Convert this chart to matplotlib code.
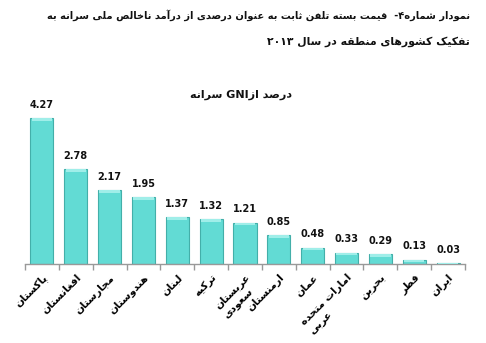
import unicodedata
import numpy as np
import matplotlib
matplotlib.use("Agg")
import matplotlib.pyplot as plt

# ---------------- data ----------------
countries = ["پاکستان", "افغانستان", "مجارستان", "هندوستان", "لبنان", "ترکیه",
             "عربستان\nسعودی", "ارمنستان", "عمان", "امارات متحده\nعربی",
             "بحرین", "قطر", "ایران"]
values = [4.27, 2.78, 2.17, 1.95, 1.37, 1.32, 1.21, 0.85, 0.48, 0.33, 0.29, 0.13, 0.03]
title_line1 = "نمودار شماره۴-  قیمت بسته تلفن ثابت به عنوان درصدی از درآمد ناخالص ملی سرانه به"
title_line2 = "تفکیک کشورهای منطقه در سال ۲۰۱۳"
subtitle = "درصد ازGNI سرانه"

# ---------------- minimal Arabic/Persian shaping + visual ordering ----------------
RIGHT_JOIN = set("اآأإدذرزژوؤة")


def is_arabic_letter(ch):
    return "\u0620" <= ch <= "\u064A" or ch in "پچژکگی"


def joins_next(ch):
    return is_arabic_letter(ch) and ch not in RIGHT_JOIN


def form(ch, f):
    try:
        return unicodedata.lookup(unicodedata.name(ch) + " " + f + " FORM")
    except KeyError:
        if f == "MEDIAL":
            return form(ch, "FINAL")
        if f == "INITIAL":
            return form(ch, "ISOLATED")
        return ch


def shape(text):
    out = []
    i = 0
    n = len(text)
    while i < n:
        ch = text[i]
        prev = text[i - 1] if i > 0 else ""
        nxt = text[i + 1] if i + 1 < n else ""
        if not is_arabic_letter(ch):
            out.append(ch)
            i += 1
            continue
        cp = bool(prev) and joins_next(prev)
        if ch == "ل" and nxt in ("ا", "آ", "أ", "إ"):
            base = {"ا": "ALEF", "آ": "ALEF WITH MADDA ABOVE",
                    "أ": "ALEF WITH HAMZA ABOVE", "إ": "ALEF WITH HAMZA BELOW"}[nxt]
            name = "ARABIC LIGATURE LAM WITH " + base + (" FINAL FORM" if cp else " ISOLATED FORM")
            out.append(unicodedata.lookup(name))
            i += 2
            continue
        cn = joins_next(ch) and bool(nxt) and is_arabic_letter(nxt)
        if cp and cn:
            out.append(form(ch, "MEDIAL"))
        elif cp:
            out.append(form(ch, "FINAL"))
        elif cn:
            out.append(form(ch, "INITIAL"))
        else:
            out.append(form(ch, "ISOLATED"))
        i += 1
    return "".join(out)


def is_ltr(ch):
    return ch.isascii() and (ch.isalnum() or ch == ".") or "\u06F0" <= ch <= "\u06F9"


def visual(text):
    lines = []
    for line in text.split("\n"):
        shaped = shape(line)
        runs = []
        for ch in shaped:
            t = is_ltr(ch)
            if runs and runs[-1][0] == t:
                runs[-1][1].append(ch)
            else:
                runs.append([t, [ch]])
        parts = []
        for t, chars in reversed(runs):
            parts.append("".join(chars) if t else "".join(reversed(chars)))
        lines.append("".join(parts))
    return "\n".join(lines)


# ---------------- plot ----------------
plt.rcParams["font.family"] = ["DejaVu Sans"]
TITLE_FAMILY = ["DejaVu Sans Condensed", "DejaVu Sans"]
W, H = 486, 343
fig = plt.figure(figsize=(W / 100, H / 100), dpi=100)
ax = fig.add_axes([25 / W, 1 - 264 / H, 440 / W, 164 / H])

x = np.arange(len(values))
vals = np.array(values)
ax.bar(x, vals, width=0.68, color="#62DBD4", edgecolor="#43AFA9", linewidth=0.8, zorder=2)
cap = np.minimum(vals, 0.08)
ax.bar(x, cap, bottom=vals - cap, width=0.6, color="#A0EEE9", linewidth=0, zorder=3)

for xi, v in zip(x, values):
    ax.annotate(f"{v:.2f}", (xi, v), xytext=(0, 6), textcoords="offset points",
                ha="center", va="bottom", fontsize=7, fontweight="bold", color="#111111")

ax.set_xlim(-0.5, len(values) - 0.5)
ax.set_ylim(0, 4.8)
for s in ("left", "right", "top"):
    ax.spines[s].set_visible(False)
ax.spines["bottom"].set_color("#999999")
ax.spines["bottom"].set_linewidth(1.0)
ax.set_yticks([])
ax.set_xticks(x)
ax.set_xticklabels([visual(c) for c in countries], rotation=45, ha="right", va="top",
                   rotation_mode="anchor", fontsize=7.5, fontweight="bold",
                   multialignment="left")
ax.tick_params(axis="x", which="major", length=0, pad=6)
ax.set_xticks(np.arange(-0.5, len(values)), minor=True)
ax.tick_params(axis="x", which="minor", length=4, color="#999999", width=1)

t1 = fig.text(470 / W, 1 - 15 / H, visual(title_line1), ha="right", va="center",
              fontsize=8.5, fontweight="bold", color="#111111", family=TITLE_FAMILY)
t2 = fig.text(470 / W, 1 - 42 / H, visual(title_line2), ha="right", va="center",
              fontsize=8.5, fontweight="bold", color="#111111", family=TITLE_FAMILY)
fig.text(241 / W, 1 - 95 / H, visual(subtitle), ha="center", va="center",
         fontsize=8, fontweight="bold", color="#111111")

# fit title line 1 to the reference width (~421 px), use a similar size for line 2
fig.canvas.draw()
r = fig.canvas.get_renderer()
w1 = t1.get_window_extent(r).width
fs = 8.5 * 421 / w1
t1.set_fontsize(fs)
t2.set_fontsize(min(fs * 1.1, 9))

fig.savefig("out.png", dpi=100)
